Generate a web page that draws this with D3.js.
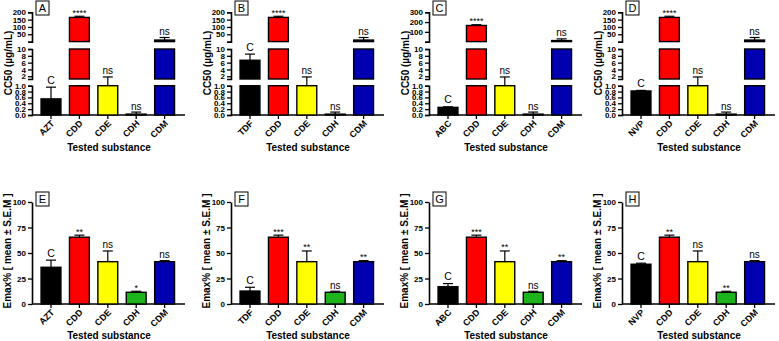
<!DOCTYPE html>
<html>
<head>
<meta charset="utf-8">
<script src="https://cdn.jsdelivr.net/npm/d3@7"></script>
<style>
  body { margin: 0; background: #fff; }
  svg { font-family: "Liberation Sans", Arial, sans-serif; }
</style>
</head>
<body>
<script>
// panels A-D: CC50, panels E-H: Emax
var topLetters = ['A', 'B', 'C', 'D']
var botLetters = ['E', 'F', 'G', 'H']
var refDrugs = ['AZT', 'TDF', 'ABC', 'NVP']
var substances = ['CDD', 'CDE', 'CDH', 'CDM']
var colors = ['#000000', '#ff0000', '#ffff00', '#1db31d', '#0000b0']

var refCC50 = [0.55, 6.7, 0.26, 0.82]
var refCC50Sem = [0.40, 1.8, 0.02, 0.02]
var subCC50 = [165, 1.0, 0.03, 10.5]
var subCC50Sem = [8, 0.8, 0.07, 17.5]
var cc50Marks = ['****', 'ns', 'ns', 'ns']
var cc50TopMax = [200, 200, 300, 200]
var cc50TopTicks = [[50, 100, 150, 200], [50, 100, 150, 200], [100, 200, 300], [50, 100, 150, 200]]
var cc50MidTicks = [2, 4, 6, 8, 10]
var cc50LowTicks = [0, 0.2, 0.4, 0.6, 0.8, 1.0]

var refEmax = [36, 12.7, 17, 39]
var refEmaxSem = [7, 3.7, 3, 1]
var subEmax = [65.5, 41.5, 11.5, 41.5]
var subEmaxSem = [2, 10.5, 1, 1]
var emaxMarks = [['**', 'ns', '*', 'ns'], ['***', '**', 'ns', '**'], ['***', '**', 'ns', '**'], ['**', 'ns', '**', 'ns']]
var emaxTicks = [0, 25, 50, 75, 100]

var panelX = [32, 231, 429, 622]

var svg = d3.select('body').append('svg').attr('width', 779).attr('height', 341)

function markText(g, txt, cx, capY) {
    var t = g.append('text').attr('x', cx).attr('text-anchor', 'middle').attr('fill', '#000').text(txt)
    if (txt == 'C') t.attr('y', capY - 3.5).attr('font-size', 10.5)
    else if (txt == 'ns') t.attr('y', capY - 2.5).attr('font-size', 10)
    else t.attr('y', capY - 0.5).attr('font-size', 9)
}

function xPart(g, x0, yBase, cats, bottomTitleY) {
    var x = d3.scaleBand().domain(cats).range([x0 + 4.8, x0 + 146.8]).paddingInner(0.3).paddingOuter(0.15)
    var ax = g.append('g')
        .attr('transform', 'translate(0,' + yBase + ')')
        .call(d3.axisBottom(x).tickSize(4).tickFormat(''))
    ax.select('.domain').remove()
    ax.selectAll('.tick line').attr('stroke', '#000').attr('stroke-width', 1.3)
    g.append('line').attr('x1', x0).attr('x2', x0 + 153).attr('y1', yBase).attr('y2', yBase)
        .attr('stroke', '#000').attr('stroke-width', 1.6)
    g.append('g').selectAll('text').data(cats).enter().append('text')
        .attr('transform', function (d) {
            return 'translate(' + (x(d) + x.bandwidth() / 2 + 4) + ',' + (yBase + 9) + ') rotate(-45)'
        })
        .attr('text-anchor', 'end')
        .attr('font-size', 9)
        .attr('font-weight', 'bold')
        .text(d => d)
    g.append('text').attr('x', x0 + 77).attr('y', bottomTitleY).attr('text-anchor', 'middle')
        .attr('font-size', 10).attr('font-weight', 'bold').text('Tested substance')
    return x
}

function letterBox(g, x0, y0, letter) {
    g.append('rect').attr('x', x0 + 4).attr('y', y0).attr('width', 13).attr('height', 14)
        .attr('fill', '#fff').attr('stroke', '#000').attr('stroke-width', 1)
    g.append('text').attr('x', x0 + 10.5).attr('y', y0 + 11).attr('text-anchor', 'middle')
        .attr('font-size', 11).text(letter)
}

function styleAxis(a) {
    a.select('.domain').attr('stroke', '#000').attr('stroke-width', 1.6)
    a.selectAll('.tick line').attr('stroke', '#000').attr('stroke-width', 1.3)
    a.selectAll('.tick text').attr('font-size', 8).attr('font-weight', 'bold').attr('fill', '#000')
}

// top row, broken CC50 axis
topLetters.forEach(function (letter, p) {
    var x0 = panelX[p]
    var g = svg.append('g')
    var cats = [refDrugs[p]].concat(substances)
    var vals = [refCC50[p]].concat(subCC50)
    var sems = [refCC50Sem[p]].concat(subCC50Sem)
    var marks = ['C'].concat(cc50Marks)

    var segs = [
        { scale: d3.scaleLinear().domain([0, 1]).range([115, 85.7]), from: 0, to: 1, ticks: cc50LowTicks, fmt: d3.format('.1f') },
        { scale: d3.scaleLinear().domain([1.2, 10]).range([79, 49]), from: 1, to: 10, ticks: cc50MidTicks, fmt: d3.format('d') },
        { scale: d3.scaleLinear().domain([0, cc50TopMax[p]]).range([41.6, 12.3]), from: 10, to: cc50TopMax[p], ticks: cc50TopTicks[p], fmt: d3.format('d') }
    ]
    function yOf(v) {
        if (v <= 1) return segs[0].scale(v)
        if (v <= 10) return Math.min(segs[1].scale(v), 79)
        return Math.min(segs[2].scale(v), 41.6)
    }

    var x = xPart(g, x0, 115, cats, 151)

    segs.forEach(function (s) {
        var a = g.append('g').attr('transform', 'translate(' + x0 + ',0)')
            .call(d3.axisLeft(s.scale).tickValues(s.ticks).tickFormat(s.fmt).tickSize(4).tickSizeOuter(4).tickPadding(2))
        styleAxis(a)
        var y0 = s.scale.range()[0]
        g.append('g').selectAll('rect').data(cats.filter((d, i) => vals[i] > s.from)).enter().append('rect')
            .attr('x', d => x(d))
            .attr('width', x.bandwidth())
            .attr('y', d => Math.min(s.scale(Math.min(vals[cats.indexOf(d)], s.to)), y0 - 0.8))
            .attr('height', d => y0 - Math.min(s.scale(Math.min(vals[cats.indexOf(d)], s.to)), y0 - 0.8))
            .attr('fill', d => colors[cats.indexOf(d)])
            .attr('stroke', '#000').attr('stroke-width', 1.4)
    })

    cats.forEach(function (d, i) {
        var cx = x(d) + x.bandwidth() / 2
        var yTop = yOf(vals[i])
        var yCap = yOf(vals[i] + sems[i])
        g.append('line').attr('x1', cx).attr('x2', cx).attr('y1', yTop).attr('y2', yCap).attr('stroke', '#000').attr('stroke-width', 1.2)
        g.append('line').attr('x1', cx - 5).attr('x2', cx + 5).attr('y1', yCap).attr('y2', yCap).attr('stroke', '#000').attr('stroke-width', 1.2)
        markText(g, marks[i], cx, yCap)
    })

    g.append('text').attr('transform', 'translate(' + (x0 - 20) + ',63) rotate(-90)')
        .attr('text-anchor', 'middle').attr('font-size', 10).attr('font-weight', 'bold').text('CC50 (µg/mL)')
    letterBox(g, x0, 1, letter)
})

// bottom row, Emax
botLetters.forEach(function (letter, p) {
    var x0 = panelX[p]
    var g = svg.append('g')
    var cats = [refDrugs[p]].concat(substances)
    var vals = [refEmax[p]].concat(subEmax)
    var sems = [refEmaxSem[p]].concat(subEmaxSem)
    var marks = ['C'].concat(emaxMarks[p])

    var y = d3.scaleLinear().domain([0, 100]).range([304, 202])
    var x = xPart(g, x0, 304, cats, 339)

    var a = g.append('g').attr('transform', 'translate(' + x0 + ',0)')
        .call(d3.axisLeft(y).tickValues(emaxTicks).tickSize(4).tickSizeOuter(0).tickPadding(2))
    styleAxis(a)

    g.append('g').selectAll('rect').data(cats).enter().append('rect')
        .attr('x', d => x(d))
        .attr('width', x.bandwidth())
        .attr('y', (d, i) => y(vals[i]))
        .attr('height', (d, i) => y(0) - y(vals[i]))
        .attr('fill', (d, i) => colors[i])
        .attr('stroke', '#000').attr('stroke-width', 1.4)

    cats.forEach(function (d, i) {
        var cx = x(d) + x.bandwidth() / 2
        var yCap = y(vals[i] + sems[i])
        g.append('line').attr('x1', cx).attr('x2', cx).attr('y1', y(vals[i])).attr('y2', yCap).attr('stroke', '#000').attr('stroke-width', 1.2)
        g.append('line').attr('x1', cx - 5).attr('x2', cx + 5).attr('y1', yCap).attr('y2', yCap).attr('stroke', '#000').attr('stroke-width', 1.2)
        markText(g, marks[i], cx, yCap)
    })

    g.append('text').attr('transform', 'translate(' + (x0 - 21) + ',251) rotate(-90)')
        .attr('text-anchor', 'middle').attr('font-size', 10).attr('font-weight', 'bold').text('Emax% [ mean ± S.E.M ]')
    letterBox(g, x0, 192, letter)
})
</script>
</body>
</html>
